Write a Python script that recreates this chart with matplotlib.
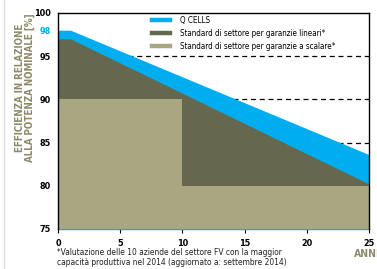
import matplotlib.pyplot as plt
from matplotlib.lines import Line2D

plt.rcParams['font.family'] = ['DejaVu Sans']
plt.rcParams['font.stretch'] = 'condensed'

years = [0, 1, 25]
qcells = [98, 98, 83.6]
linear = [97, 97, 80.2]
step_years = [0, 10, 10, 25]
step_vals = [90, 90, 80, 80]
yticks = [75, 80, 85, 90, 95, 98, 100]
xticks = [0, 5, 10, 15, 20, 25]
labels = ['Q CELLS', 'Standard di settore per garanzie lineari*',
          'Standard di settore per garanzie a scalare*']

blue = '#00aeef'
dark = '#66674f'
tan = '#a9a682'
label_col = '#8c8a6a'

fig = plt.figure(figsize=(3.77, 2.69), dpi=100)
ax = fig.add_axes([0.154, 0.149, 0.825, 0.803])

for g in [80, 85, 90, 95]:
    ax.axhline(g, color='black', linestyle=(0, (4, 3)), linewidth=0.9, zorder=0)

ax.fill_between(years, 75, qcells, color=blue, linewidth=0, zorder=1)
ax.fill_between(years, 75, linear, color=dark, linewidth=0, zorder=2)
ax.fill_between(step_years, 75, step_vals, color=tan, linewidth=0, zorder=3)

ax.set_xlim(0, 25)
ax.set_ylim(75, 100)
ax.set_xticks(xticks)
ax.set_yticks(yticks)
ax.tick_params(axis='both', labelsize=6.5, length=3, width=0.8, pad=4)
for lab in ax.get_xticklabels() + ax.get_yticklabels():
    lab.set_fontweight('bold')
ax.get_yticklabels()[5].set_color(blue)
ax.tick_params(axis='y', length=0, pad=5)

for s in ['top', 'right', 'left']:
    ax.spines[s].set_color('black')
    ax.spines[s].set_linewidth(1.0)
    ax.spines[s].set_zorder(5)
ax.spines['bottom'].set_color('#5f8f92')
ax.spines['bottom'].set_linewidth(1.0)

handles = [Line2D([], [], color=c, linewidth=3.2) for c in [blue, dark, tan]]
ax.legend(handles, labels, loc='upper left', bbox_to_anchor=(0.28, 1.02),
          frameon=False, fontsize=5.8, handlelength=2.2, labelspacing=0.5,
          handletextpad=1.2)

fig.text(0.066, 0.675, 'EFFICIENZA IN RELAZIONE\nALLA POTENZA NOMINALE [%]',
         rotation=90, ha='center', va='center', fontsize=7.0,
         fontweight='bold', color=label_col, linespacing=1.05)
fig.text(0.94, 0.055, 'ANNI', fontsize=7.5, fontweight='bold', color=label_col,
         ha='left', va='center')
fig.text(0.15, 0.078, '*Valutazione delle 10 aziende del settore FV con la maggior\n'
         'capacità produttiva nel 2014 (aggiornato a: settembre 2014)',
         fontsize=6.0, ha='left', va='top', color='#222222', linespacing=1.2)

fig.add_artist(Line2D([0.01, 0.01], [0, 1], color='#dddddd', linewidth=1.0))

fig.savefig('out.png', dpi=100)
